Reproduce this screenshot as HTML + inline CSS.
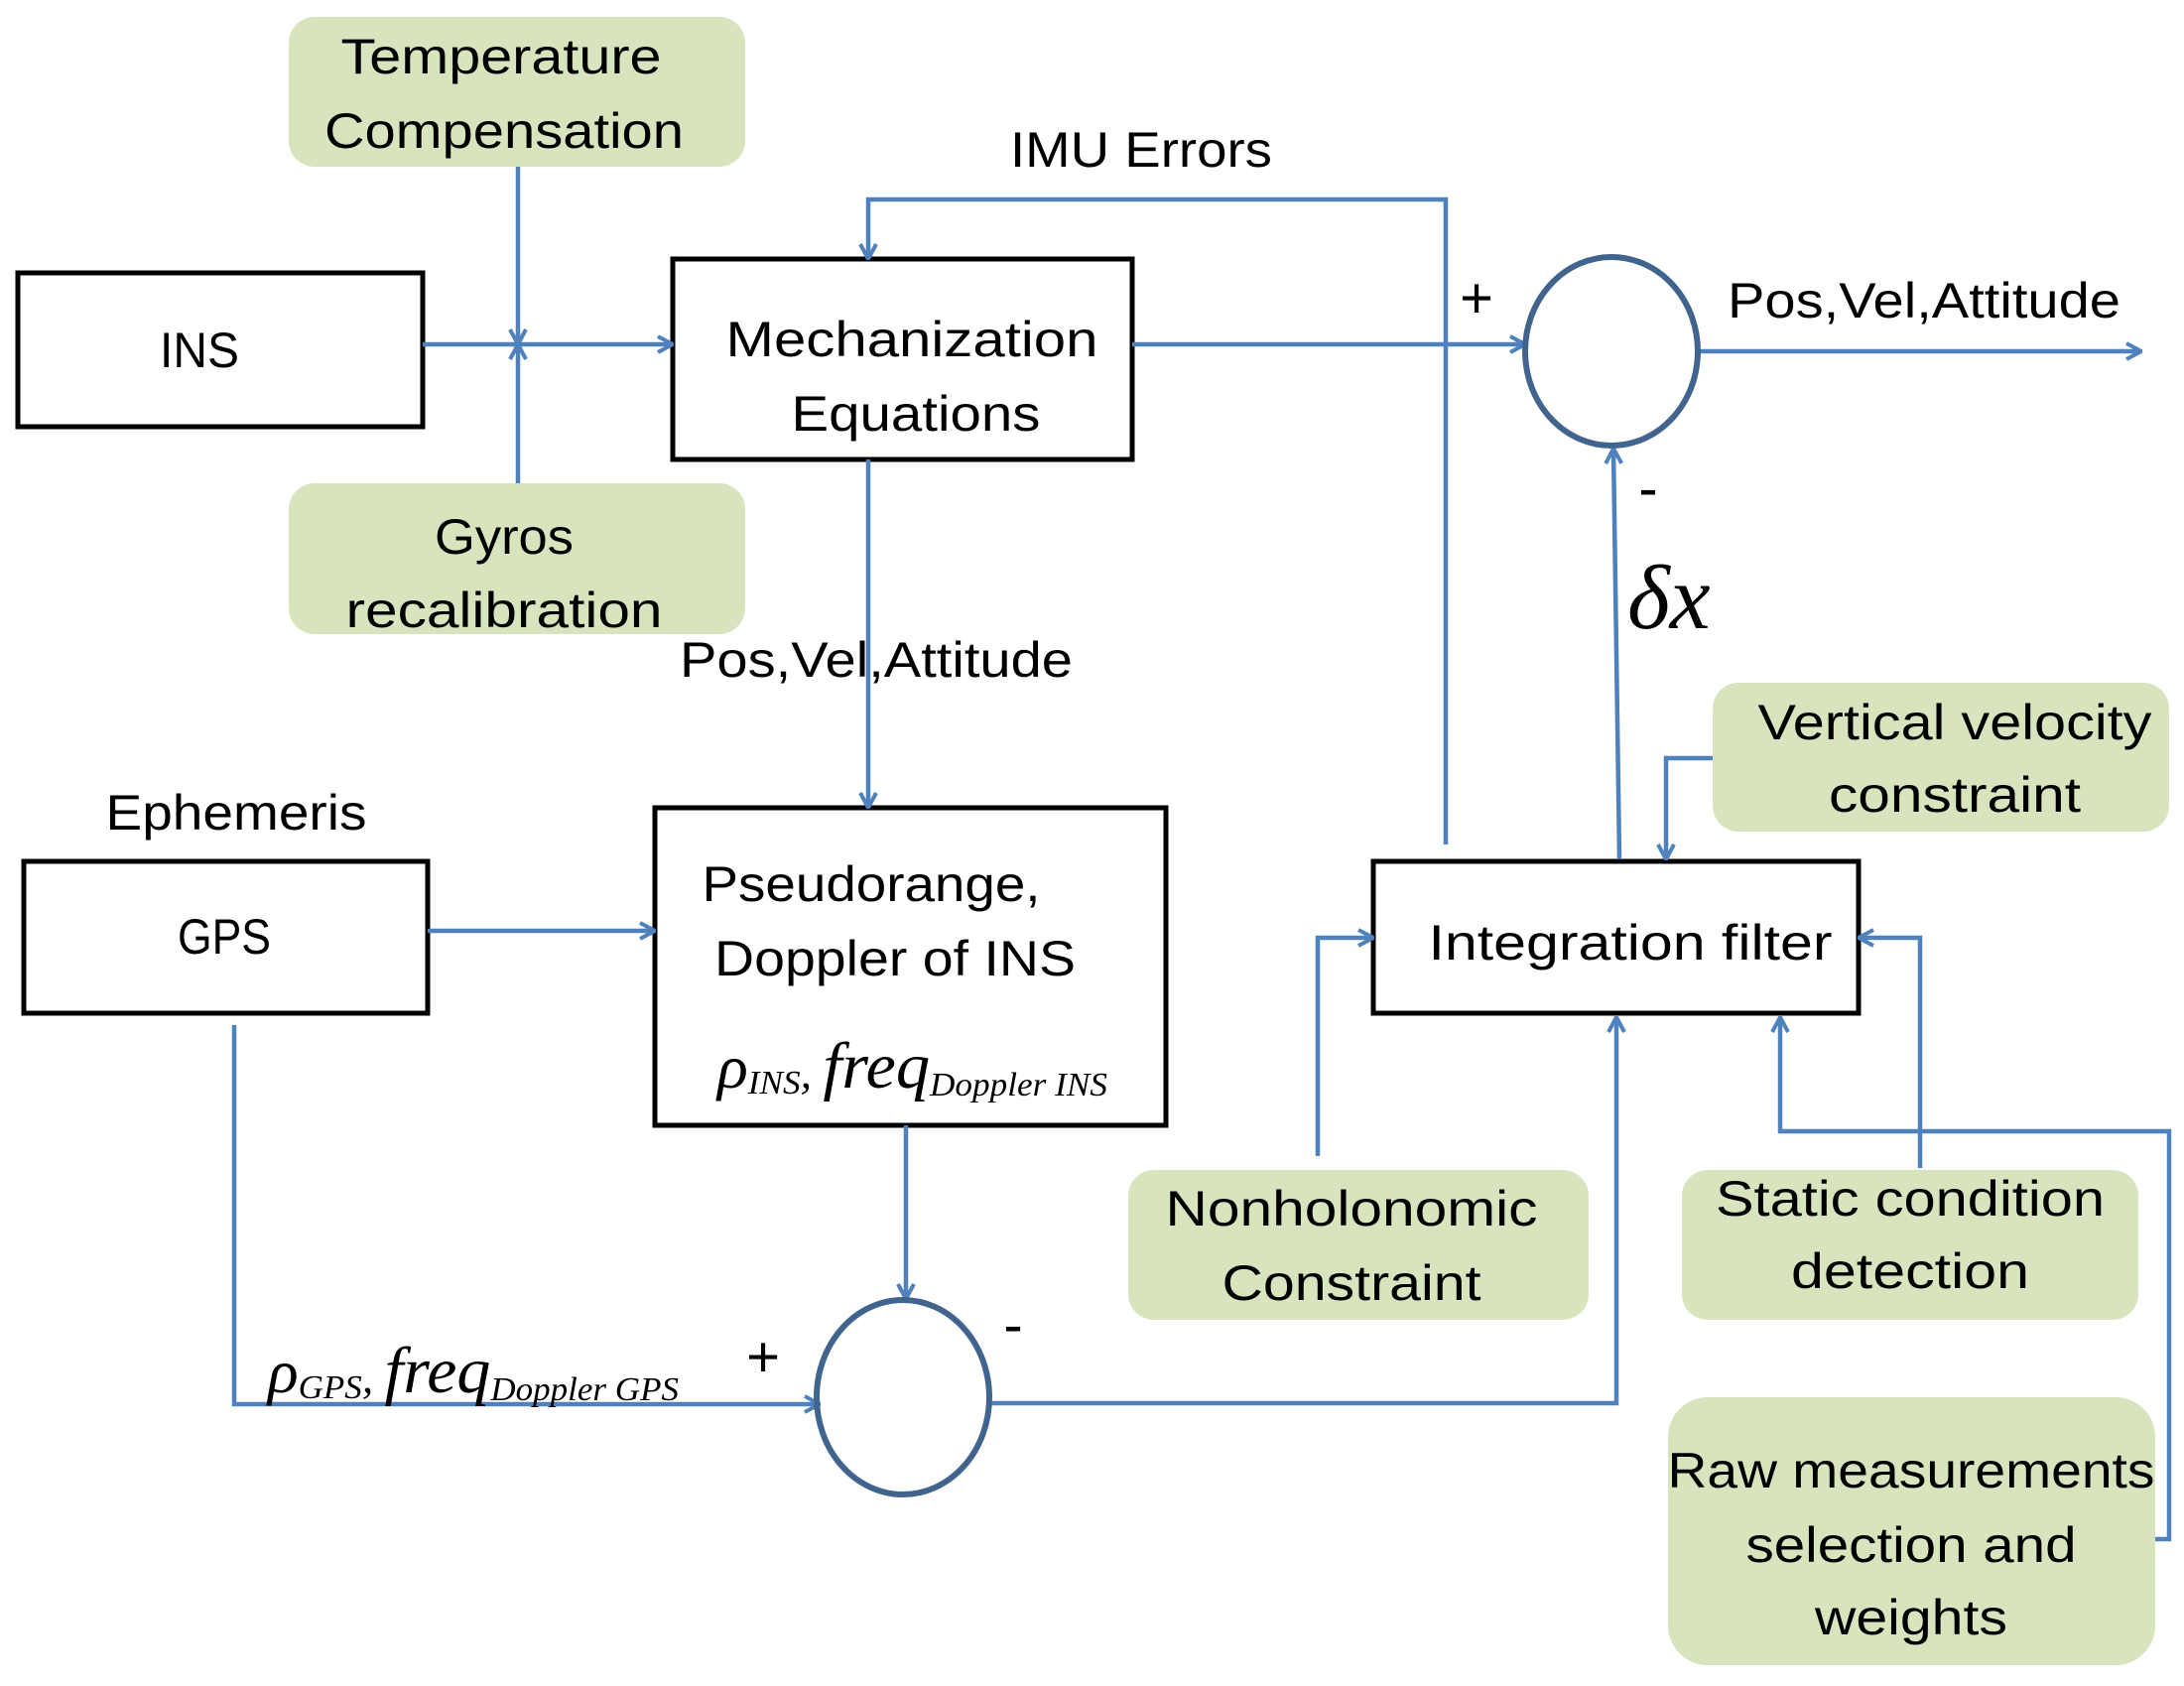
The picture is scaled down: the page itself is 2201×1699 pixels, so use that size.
<!DOCTYPE html>
<html><head><meta charset="utf-8"><style>html,body{margin:0;padding:0;background:#fff}svg{display:block}</style></head>
<body>
<svg width="2201" height="1699" viewBox="0 0 2201 1699" xmlns="http://www.w3.org/2000/svg">
<defs>
<marker id="a" viewBox="0 0 20 20" refX="19" refY="10" markerWidth="20" markerHeight="20" markerUnits="userSpaceOnUse" orient="auto">
<path d="M4,2 L19,10 L4,18" fill="none" stroke="#4f81bd" stroke-width="4"/>
</marker>
</defs>
<g fill="#d7e4bd">
<rect x="291" y="17" width="460" height="151" rx="26"/>
<rect x="291" y="487" width="460" height="152" rx="26"/>
<rect x="1726" y="688" width="460" height="150" rx="26"/>
<rect x="1137" y="1179" width="464" height="151" rx="26"/>
<rect x="1695" y="1179" width="460" height="151" rx="26"/>
<rect x="1681" y="1408" width="491" height="270" rx="40"/>
</g>
<g fill="#fff" stroke="#000" stroke-width="5">
<rect x="18" y="275" width="408" height="155"/>
<rect x="678" y="261" width="463" height="202"/>
<rect x="660" y="814" width="515" height="320"/>
<rect x="24" y="868" width="407" height="153"/>
<rect x="1384" y="868" width="489" height="153"/>
</g>
<g fill="none" stroke="#4f81bd" stroke-width="4.5">
<path d="M522,168 L522,347" marker-end="url(#a)"/>
<path d="M522,487 L522,347" marker-end="url(#a)"/>
<path d="M426,347 L678,347" marker-end="url(#a)"/>
<path d="M1457,851 L1457,201 L875,201 L875,261" marker-end="url(#a)"/>
<path d="M1141,347 L1537,347" marker-end="url(#a)"/>
<path d="M1713,354 L2158,354" marker-end="url(#a)"/>
<path d="M1632,866 L1626,452" marker-end="url(#a)"/>
<path d="M875,463 L875,814" marker-end="url(#a)"/>
<path d="M431,938 L660,938" marker-end="url(#a)"/>
<path d="M236,1033 L236,1415 L826,1415" marker-end="url(#a)"/>
<path d="M913,1134 L913,1309" marker-end="url(#a)"/>
<path d="M997,1414 L1629,1414 L1629,1025" marker-end="url(#a)"/>
<path d="M1726,764 L1679,764 L1679,866" marker-end="url(#a)"/>
<path d="M1328,1165 L1328,945 L1384,945" marker-end="url(#a)"/>
<path d="M1935,1177 L1935,945 L1873,945" marker-end="url(#a)"/>
<path d="M2172,1551 L2186,1551 L2186,1140 L1794,1140 L1794,1025" marker-end="url(#a)"/>
</g>
<g fill="none" stroke="#41648f" stroke-width="6">
<ellipse cx="1624" cy="354" rx="87" ry="95"/>
<ellipse cx="910" cy="1408" rx="87" ry="98"/>
</g>
<g font-family="Liberation Sans, sans-serif" font-size="50" fill="#000" text-anchor="middle">
<text x="505" y="74" textLength="323" lengthAdjust="spacingAndGlyphs">Temperature</text>
<text x="508" y="149" textLength="362" lengthAdjust="spacingAndGlyphs">Compensation</text>
<text x="508" y="558" textLength="140" lengthAdjust="spacingAndGlyphs">Gyros</text>
<text x="508" y="632" textLength="319" lengthAdjust="spacingAndGlyphs">recalibration</text>
<text x="201" y="370" textLength="80" lengthAdjust="spacingAndGlyphs">INS</text>
<text x="919" y="359" textLength="375" lengthAdjust="spacingAndGlyphs">Mechanization</text>
<text x="923" y="434" textLength="251" lengthAdjust="spacingAndGlyphs">Equations</text>
<text x="1150" y="168" textLength="264" lengthAdjust="spacingAndGlyphs">IMU Errors</text>
<text x="1939" y="320" textLength="396" lengthAdjust="spacingAndGlyphs">Pos,Vel,Attitude</text>
<text x="883" y="682" textLength="396" lengthAdjust="spacingAndGlyphs">Pos,Vel,Attitude</text>
<text x="238" y="836" textLength="263" lengthAdjust="spacingAndGlyphs">Ephemeris</text>
<text x="226" y="961" textLength="94" lengthAdjust="spacingAndGlyphs">GPS</text>
<text x="878" y="908" textLength="341" lengthAdjust="spacingAndGlyphs">Pseudorange,</text>
<text x="902" y="983" textLength="364" lengthAdjust="spacingAndGlyphs">Doppler of INS</text>
<text x="1643" y="967" textLength="407" lengthAdjust="spacingAndGlyphs">Integration filter</text>
<text x="1970" y="745" textLength="397" lengthAdjust="spacingAndGlyphs">Vertical velocity</text>
<text x="1970" y="818" textLength="254" lengthAdjust="spacingAndGlyphs">constraint</text>
<text x="1362" y="1235" textLength="375" lengthAdjust="spacingAndGlyphs">Nonholonomic</text>
<text x="1362" y="1310" textLength="261" lengthAdjust="spacingAndGlyphs">Constraint</text>
<text x="1925" y="1225" textLength="392" lengthAdjust="spacingAndGlyphs">Static condition</text>
<text x="1925" y="1298" textLength="240" lengthAdjust="spacingAndGlyphs">detection</text>
<text x="1926" y="1499" textLength="491" lengthAdjust="spacingAndGlyphs">Raw measurements</text>
<text x="1926" y="1574" textLength="333" lengthAdjust="spacingAndGlyphs">selection and</text>
<text x="1926" y="1647" textLength="194" lengthAdjust="spacingAndGlyphs">weights</text>
<text x="1488" y="320" font-size="58">+</text>
<text x="769" y="1387" font-size="58">+</text>
<text x="1661" y="512" font-size="58">-</text>
<text x="1021" y="1355" font-size="58">-</text>
</g>
<g font-family="Liberation Serif, serif" font-style="italic" fill="#000">
<text x="1640" y="633" font-size="92">δx</text>
<text x="723" y="1096" textLength="393" lengthAdjust="spacingAndGlyphs" font-size="62">ρ<tspan font-size="34" dy="6">INS</tspan><tspan font-size="44" dy="-6">, </tspan><tspan font-size="66">freq</tspan><tspan font-size="34" dy="8">Doppler INS</tspan></text>
<text x="270" y="1403" textLength="414" lengthAdjust="spacingAndGlyphs" font-size="62">ρ<tspan font-size="34" dy="6">GPS</tspan><tspan font-size="44" dy="-6">, </tspan><tspan font-size="66">freq</tspan><tspan font-size="34" dy="8">Doppler GPS</tspan></text>
</g>
</svg>
</body></html>
